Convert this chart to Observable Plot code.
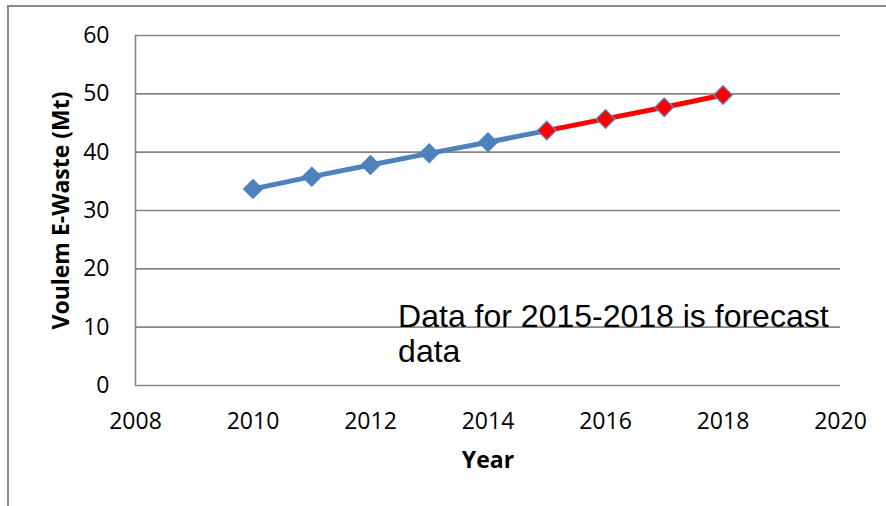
<!DOCTYPE html>
<html>
<head>
<meta charset="utf-8">
<script src="https://cdn.jsdelivr.net/npm/d3@7"></script>
<script src="https://cdn.jsdelivr.net/npm/@observablehq/plot@0.6"></script>
<style>
  html, body { margin: 0; padding: 0; background: #fff; }
  #wrap { position: relative; width: 886px; height: 506px; overflow: hidden; }
  #wrap svg { display: block; position: absolute; left: 0; top: 0; }
  #frame { position: absolute; left: 7px; top: 5px; width: 1000px; height: 1000px;
           border-left: 2px solid #8c8c8c; border-top: 2px solid #8c8c8c; pointer-events: none; }
</style>
</head>
<body>
<div id="wrap"><div id="frame"></div></div>
<script>
// ---- data ----
const years = [2010, 2011, 2012, 2013, 2014, 2015, 2016, 2017, 2018];
const volumes = [33.7, 35.8, 37.8, 39.8, 41.7, 43.7, 45.7, 47.7, 49.8];
const forecastStart = 2015;
const xTicks = [2008, 2010, 2012, 2014, 2016, 2018, 2020];
const yTicks = [0, 10, 20, 30, 40, 50, 60];
const xLabel = "Year";
const yLabel = "Voulem E-Waste (Mt)";
const noteText = "Data for 2015-2018 is forecast\ndata";
const notePos = [{x: 2012.47, y: 4}];

// ---- derived tables ----
const rows = years.map((year, i) => ({year, value: volumes[i]}));
const actual = rows.filter(d => d.year <= forecastStart);
const forecast = rows.filter(d => d.year >= forecastStart);

const blue = "#4F81BD";
const red = "#FF0000";
const grid = "#868686";
const font = "'Open Sans', sans-serif";

const chart = Plot.plot({
  width: 886,
  height: 506,
  marginLeft: 135,
  marginRight: 46,
  marginTop: 35,
  marginBottom: 121,
  style: {fontFamily: font, fontSize: "23px", color: "#000", background: "transparent"},
  x: {domain: [2008, 2020]},
  y: {domain: [0, 60]},
  marks: [
    Plot.gridY(yTicks, {stroke: grid, strokeOpacity: 1, strokeWidth: 1.6}),
    Plot.ruleX([xTicks[0]], {stroke: grid, strokeWidth: 1.6}),
    Plot.axisX({ticks: xTicks, tickSize: 0, tickPadding: 27, tickFormat: "d", label: null, fontSize: 23}),
    Plot.axisY({ticks: yTicks, tickSize: 0, tickPadding: 26, label: null, fontSize: 23}),
    Plot.line(actual, {x: "year", y: "value", stroke: blue, strokeWidth: 5}),
    Plot.line(forecast, {x: "year", y: "value", stroke: red, strokeWidth: 5}),
    Plot.dot(rows, {
      x: "year", y: "value", symbol: "diamond2", r: 8.5,
      fill: d => d.year >= forecastStart ? red : blue,
      stroke: d => d.year >= forecastStart ? "#5b8fd0" : blue,
      strokeWidth: 1.2
    }),
    Plot.text(notePos, {x: "x", y: "y", text: () => noteText, textAnchor: "start", lineAnchor: "bottom",
      fontFamily: "'Liberation Sans', Arial, sans-serif", fontSize: 32, lineHeight: 1.09, fill: "#000"}),
    Plot.text([xLabel], {frameAnchor: "bottom", dy: 75, text: d => d, textAnchor: "middle", lineAnchor: "middle",
      fontWeight: "bold", fontSize: 23, fill: "#000"}),
    Plot.text([yLabel], {frameAnchor: "left", dx: -74, rotate: -90, text: d => d, textAnchor: "middle", lineAnchor: "middle",
      fontWeight: "bold", fontSize: 23, fill: "#000"})
  ]
});
document.getElementById("wrap").insertBefore(chart, document.getElementById("frame"));
</script>
</body>
</html>
